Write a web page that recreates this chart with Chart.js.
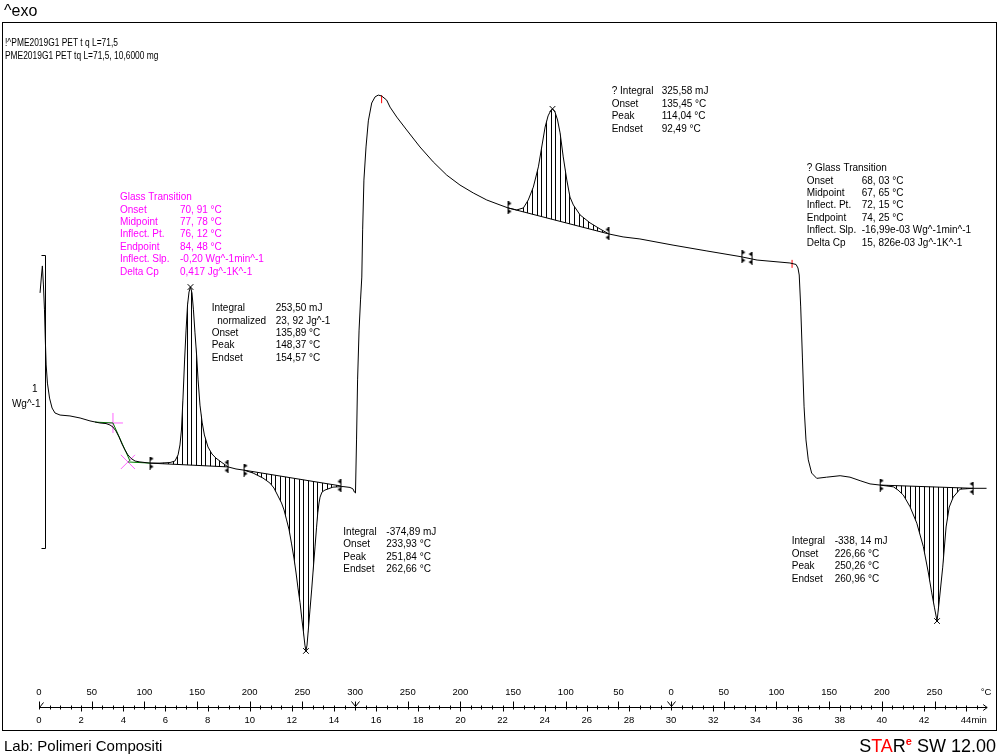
<!DOCTYPE html>
<html><head><meta charset="utf-8">
<script src="https://cdn.jsdelivr.net/npm/chart.js@4.4.1/dist/chart.umd.min.js"></script>
<style>html,body{margin:0;padding:0;background:#fff;overflow:hidden}</style>
</head><body>
<canvas id="c" width="1000" height="756"></canvas>
<script>
// ---------- DATA (time in min, heat flow in W/g, relative) ----------
const heat1Time = [0.05,0.12,0.16,0.21,0.26,0.30,0.34,0.40,0.50,0.62,0.76,1.00,1.47,1.95,2.42,2.89,3.18,3.37,3.51,3.65,3.80,3.94,4.08,4.22,4.37,4.56,4.79,5.27,5.74,6.22,6.45,6.60,6.69,6.76,6.83,6.91,6.98,7.05,7.12,7.19,7.26,7.33,7.40,7.48,7.55,7.64,7.74,7.85,8.02,8.21,8.40,8.64,8.97,9.35,9.73,10.16,10.63,10.96,11.15,11.32,11.51,11.63,11.75,11.87,11.98,12.10,12.20,12.29,12.39,12.48,12.55,12.62,12.67,12.72,12.78,12.86,12.94,13.02,13.10,13.17,13.23,13.29,13.34,13.43,13.57,13.95,14.43,14.76,14.90,14.97,15.02];
const heat1Flow = [1.311,1.372,1.403,1.338,1.253,1.150,1.065,1.003,0.952,0.918,0.901,0.894,0.891,0.884,0.874,0.867,0.865,0.860,0.853,0.840,0.819,0.795,0.775,0.758,0.746,0.737,0.734,0.730,0.730,0.732,0.737,0.758,0.792,0.843,0.945,1.082,1.184,1.270,1.314,1.331,1.311,1.253,1.177,1.099,1.014,0.928,0.870,0.826,0.785,0.761,0.747,0.734,0.717,0.710,0.706,0.696,0.679,0.662,0.645,0.621,0.594,0.570,0.536,0.502,0.457,0.406,0.355,0.304,0.253,0.195,0.154,0.109,0.089,0.109,0.160,0.229,0.297,0.372,0.444,0.509,0.560,0.594,0.614,0.631,0.638,0.648,0.650,0.647,0.642,0.631,0.628];
const coolTime = [15.07,15.12,15.19,15.26,15.32,15.36,15.42,15.52,15.63,15.79,15.95,16.10,16.26,16.50,16.66,16.98,17.45,18.08,18.71,19.35,19.98,20.61,21.25,21.88,22.26,22.67,22.99,23.22,23.46,23.70,23.86,24.02,24.16,24.25,24.37,24.49,24.61,24.73,24.88,25.05,25.20,25.36,25.68,26.15,26.63,27.05,27.72,28.52,30.09,31.70,33.27,34.08,35.64,35.93];
const coolFlow = [0.809,1.014,1.184,1.287,1.365,1.526,1.696,1.809,1.898,1.959,1.980,1.986,1.983,1.969,1.945,1.911,1.867,1.809,1.758,1.713,1.679,1.652,1.628,1.611,1.601,1.594,1.601,1.628,1.672,1.741,1.809,1.877,1.915,1.928,1.939,1.928,1.901,1.857,1.775,1.696,1.638,1.611,1.577,1.550,1.529,1.512,1.502,1.495,1.474,1.454,1.435,1.423,1.413,1.408];
const heat2Time = [36.02,36.08,36.15,36.23,36.31,36.40,36.51,36.67,36.91,37.38,38.02,38.49,38.97,39.44,39.92,40.55,40.77,41.02,41.34,41.66,41.97,42.21,42.37,42.50,42.62,42.73,42.89,43.05,43.20,43.39,43.71,44.33,44.97];
const heat2Flow = [1.396,1.372,1.263,1.092,0.922,0.809,0.741,0.696,0.678,0.682,0.687,0.682,0.670,0.659,0.655,0.649,0.638,0.621,0.581,0.525,0.445,0.355,0.287,0.236,0.191,0.263,0.375,0.512,0.580,0.614,0.641,0.644,0.644];

// integration baselines (start / end of each evaluated peak)
const baseStartT = [5.27, 9.73, 22.26, 39.92];
const baseStartV = [0.730, 0.706, 1.601, 0.655];
const baseEndT   = [8.97, 14.33, 27.05, 44.33];
const baseEndV   = [0.717, 0.652, 1.512, 0.644];
// peak maxima / minima
const peakT = [7.19, 12.67, 24.37, 42.62];
const peakV = [1.331, 0.089, 1.939, 0.191];
// second glass transition limits
const tg2LimitT = [33.36, 33.84];
const tg2LimitV = [1.434, 1.428];
// first glass transition construction
const tg1TangentT = [2.66, 3.51, null, 3.51, 4.32, null, 4.22, 5.27];
const tg1TangentV = [0.870, 0.867, null, 0.867, 0.737, null, 0.734, 0.730];
const tg1OnsetT = [3.51], tg1OnsetV = [0.867];
const tg1EndT = [4.22], tg1EndV = [0.734];
// segment markers (red)
const segMarkT = [16.26, 35.74];
const segMarkV = [1.972, 1.410];

// axis ticks
const timeTickTimes  = [0,2,4,6,8,10,12,14,16,18,20,22,24,26,28,30,32,34,36,38,40,42,44];
const timeTickLabels = ['0','2','4','6','8','10','12','14','16','18','20','22','24','26','28','30','32','34','36','38','40','42','44'];
const tempTickTimes  = [0,2.5,5,7.5,10,12.5,15,17.5,20,22.5,25,27.5,30,32.5,35,37.5,40,42.5,44.95];
const tempTickLabels = ['0','50','100','150','200','250','300','250','200','150','100','50','0','50','100','150','200','250','°C'];

const X_MIN = -1.756, X_MAX = 45.466, Y_MIN = 0, Y_MAX = 2.2355;
const AXIS_START = 0, AXIS_END = 45;
const SCALE_BAR_T = 0.285, SCALE_BAR_TOP = 1.44, SCALE_BAR_LEN = 1;

const annotationBlocks = [
  {t:3.844, v:1.637, col:60, color:'#FF00FF', rows:[['Glass Transition',''],['Onset','70, 91 °C'],['Midpoint','77, 78 °C'],['Inflect. Pt.','76, 12 °C'],['Endpoint','84, 48 °C'],['Inflect. Slp.','-0,20 Wg^-1min^-1'],['Delta Cp','0,417 Jg^-1K^-1']]},
  {t:8.196, v:1.258, col:64, color:'#000', rows:[['Integral','253,50 mJ'],['  normalized','23, 92 Jg^-1'],['Onset','135,89 °C'],['Peak','148,37 °C'],['Endset','154,57 °C']]},
  {t:14.442, v:0.494, col:43, color:'#000', rows:[['Integral','-374,89 mJ'],['Onset','233,93 °C'],['Peak','251,84 °C'],['Endset','262,66 °C']]},
  {t:27.18, v:1.998, col:50, color:'#000', rows:[['? Integral','325,58 mJ'],['Onset','135,45 °C'],['Peak','114,04 °C'],['Endset','92,49 °C']]},
  {t:36.435, v:1.736, col:55, color:'#000', rows:[['? Glass Transition',''],['Onset','68, 03 °C'],['Midpoint','67, 65 °C'],['Inflect. Pt.','72, 15 °C'],['Endpoint','74, 25 °C'],['Inflect. Slp.','-16,99e-03 Wg^-1min^-1'],['Delta Cp','15, 826e-03 Jg^-1K^-1']]},
  {t:35.723, v:0.462, col:43, color:'#000', rows:[['Integral','-338, 14 mJ'],['Onset','226,66 °C'],['Peak','250,26 °C'],['Endset','260,96 °C']]}
];

// ---------- helpers ----------
const FONT = '"Liberation Sans", Arial, sans-serif';
const pts = (T, V) => T.map((t, i) => ({x: t, y: V[i]}));
function hatchPattern() {
  const c = document.createElement('canvas'); c.width = 14; c.height = 2;
  const g = c.getContext('2d'); g.fillStyle = '#000';
  [0, 5, 9].forEach(x => g.fillRect(x, 0, 1, 2));
  return g.createPattern(c, 'repeat');
}
function limitMark(dir) {
  const c = document.createElement('canvas'); c.width = 9; c.height = 13;
  const g = c.getContext('2d'); g.fillStyle = '#000';
  g.fillRect(4, 0, 1, 13);
  [2, 10].forEach(y => {
    g.beginPath();
    if (dir > 0) { g.moveTo(5, y - 2); g.lineTo(8, y); g.lineTo(5, y + 2); }
    else { g.moveTo(4, y - 2); g.lineTo(1, y); g.lineTo(4, y + 2); }
    g.closePath(); g.fill();
  });
  return c;
}
const hatch = hatchPattern();
const leftMark = limitMark(1), rightMark = limitMark(-1);

const curve = pts(heat1Time, heat1Flow).concat(pts(coolTime, coolFlow), pts(heat2Time, heat2Flow));
const common = {xAxisID: 'x', yAxisID: 'y', tension: 0};
const datasets = [
  {...common, label: 'DSC', data: curve, borderColor: '#000', borderWidth: 1, pointRadius: 0, fill: false}
];
baseStartT.forEach((t, i) => datasets.push({...common, label: 'baseline ' + (i + 1),
  data: [{x: t, y: baseStartV[i]}, {x: baseEndT[i], y: baseEndV[i]}],
  borderColor: '#000', borderWidth: 1, pointRadius: 0, fill: {target: 0}, backgroundColor: hatch}));
datasets.push({...common, label: 'tg1 tangents', data: pts(tg1TangentT, tg1TangentV), borderColor: '#008000', borderWidth: 1, pointRadius: 0, spanGaps: false, fill: false});
datasets.push({...common, label: 'tg1 onset', data: pts(tg1OnsetT, tg1OnsetV), showLine: false, pointStyle: 'cross', pointRadius: 10, borderColor: '#FF66FF', borderWidth: 1});
datasets.push({...common, label: 'tg1 end', data: pts(tg1EndT, tg1EndV), showLine: false, pointStyle: 'crossRot', pointRadius: 10, borderColor: '#FF66FF', borderWidth: 1});
datasets.push({...common, label: 'peaks', data: pts(peakT, peakV), showLine: false, pointStyle: 'crossRot', pointRadius: 4, borderColor: '#000', borderWidth: 1});
datasets.push({...common, label: 'left limits', data: pts(baseStartT.concat([tg2LimitT[0]]), baseStartV.concat([tg2LimitV[0]])), showLine: false, pointStyle: leftMark, pointRadius: 5});
datasets.push({...common, label: 'right limits', data: pts(baseEndT.concat([tg2LimitT[1]]), baseEndV.concat([tg2LimitV[1]])), showLine: false, pointStyle: rightMark, pointRadius: 5});
datasets.push({...common, label: 'segment marks', data: pts(segMarkT, segMarkV), showLine: false, pointStyle: 'line', rotation: 90, pointRadius: 4, borderColor: '#FF0000', borderWidth: 1});

const decor = {
  id: 'decor',
  afterDraw(chart) {
    const {ctx, chartArea: ca, scales} = chart;
    const xs = scales.x, ys = scales.y;
    ctx.save();
    ctx.strokeStyle = '#000'; ctx.fillStyle = '#000'; ctx.lineWidth = 1;
    // frame
    const L = Math.round(ca.left) + 0.5, T = Math.round(ca.top) + 0.5, R = Math.round(ca.right) - 0.5;
    const B = Math.round(xs.bottom) - 2.5;
    ctx.strokeRect(L, T, R - L, B - T);
    // time / temperature axis line
    const ay = Math.round(xs.top) + 0.5;
    const ax0 = xs.getPixelForValue(AXIS_START), ax1 = xs.getPixelForValue(AXIS_END);
    const line = (x1, y1, x2, y2) => { ctx.beginPath(); ctx.moveTo(x1, y1); ctx.lineTo(x2, y2); ctx.stroke(); };
    line(ax0, ay, ax1, ay);
    line(ax1 - 4, ay - 3, ax1, ay); line(ax1 - 4, ay + 3, ax1, ay);
    for (let k = 1; k <= 89; k++) {
      const t = k * 0.5, px = Math.round(xs.getPixelForValue(t)) + 0.5;
      if (k === 30 || k === 60) continue;
      let up = 2, dn = 2;
      if (k % 4 === 0) dn = 4;
      if (k % 5 === 0) up = 6;
      line(px, ay - up, px, ay + dn);
    }
    // segment boundary marks
    const p0 = Math.round(xs.getPixelForValue(0)) + 0.5;
    line(p0, ay - 6, p0, ay + 2); line(p0, ay, p0 + 4, ay - 5);
    [15, 30].forEach(t => {
      const px = Math.round(xs.getPixelForValue(t)) + 0.5;
      line(px - 4, ay - 6, px, ay - 1); line(px + 4, ay - 6, px, ay - 1); line(px, ay - 6, px, ay + 3);
    });
    ctx.font = '9.5px ' + FONT; ctx.textBaseline = 'middle'; ctx.textAlign = 'left';
    const lastTick = xs.ticks.length - 1;
    ctx.fillText('min', xs.getPixelForValue(xs.ticks[lastTick].value) + ctx.measureText(timeTickLabels[lastTick]).width / 2, ay + 13);
    // scale bar 1 W/g
    const sx = Math.round(xs.getPixelForValue(SCALE_BAR_T)) + 0.5;
    const sy0 = Math.round(ys.getPixelForValue(SCALE_BAR_TOP)) + 0.5;
    const sy1 = Math.round(ys.getPixelForValue(SCALE_BAR_TOP - SCALE_BAR_LEN)) + 0.5;
    line(sx, sy0, sx, sy1); line(sx - 4, sy0, sx, sy0); line(sx - 4, sy1, sx, sy1);
    const sm = (sy0 + sy1) / 2;
    ctx.font = '10px ' + FONT; ctx.textAlign = 'right';
    ctx.fillText(String(SCALE_BAR_LEN), sx - 8, sm - 13);
    ctx.fillText('Wg^-1', sx - 5, sm + 2);
    // annotation blocks
    ctx.textAlign = 'left';
    annotationBlocks.forEach(b => {
      const bx = xs.getPixelForValue(b.t), by = ys.getPixelForValue(b.v);
      ctx.fillStyle = b.color;
      b.rows.forEach((r, i) => {
        ctx.fillText(r[0], bx, by + i * 12.4);
        if (r[1]) ctx.fillText(r[1], bx + b.col, by + i * 12.4);
      });
    });
    // header
    ctx.fillStyle = '#000';
    ctx.font = '16px ' + FONT;
    ctx.fillText('^exo', 4, 12);
    ctx.save();
    ctx.scale(0.8, 1);
    ctx.font = '10.5px ' + FONT;
    ctx.fillText('!^PME2019G1 PET t q L=71,5', 5 / 0.8, 43);
    ctx.fillText('PME2019G1 PET tq L=71,5, 10,6000 mg', 5 / 0.8, 56);
    ctx.restore();
    // footer
    ctx.textBaseline = 'alphabetic';
    ctx.font = '15px ' + FONT;
    ctx.fillText('Lab: Polimeri Compositi', 4, 751);
    const big = '18px ' + FONT, sup = 'bold 11px ' + FONT;
    const parts = [['S', '#000', big, 0], ['TA', '#FF0000', big, 0], ['R', '#000', big, 0], ['e', '#FF0000', sup, -7], [' SW 12.00', '#000', big, 0]];
    let w = 0;
    parts.forEach(p => { ctx.font = p[2]; w += ctx.measureText(p[0]).width; });
    let x = 996 - w;
    parts.forEach(p => { ctx.font = p[2]; ctx.fillStyle = p[1]; ctx.fillText(p[0], x, 752 + p[3]); x += ctx.measureText(p[0]).width; });
    ctx.restore();
  }
};

new Chart(document.getElementById('c'), {
  type: 'line',
  data: {datasets},
  options: {
    responsive: false, devicePixelRatio: 1, animation: false, events: [],
    layout: {autoPadding: false, padding: {left: 2, right: 3, top: 22, bottom: 23}},
    plugins: {legend: {display: false}, tooltip: {enabled: false}, title: {display: false}},
    scales: {
      xT: {type: 'linear', position: 'bottom', weight: 0, min: X_MIN, max: X_MAX,
        grid: {display: false, drawTicks: false}, border: {display: false},
        afterBuildTicks: s => { s.ticks = tempTickTimes.map(v => ({value: v})); },
        ticks: {autoSkip: false, maxRotation: 0, minRotation: 0, padding: 0, font: {family: FONT, size: 9.5, lineHeight: '30px'}, color: '#000',
          callback: (v, i) => tempTickLabels[i]}},
      x: {type: 'linear', position: 'bottom', weight: 1, min: X_MIN, max: X_MAX,
        grid: {display: false, drawTicks: false}, border: {display: false},
        afterBuildTicks: s => { s.ticks = timeTickTimes.map(v => ({value: v})); },
        ticks: {autoSkip: false, maxRotation: 0, minRotation: 0, padding: 0, font: {family: FONT, size: 9.5, lineHeight: '26px'}, color: '#000',
          callback: (v, i) => timeTickLabels[i]}},
      y: {type: 'linear', display: false, min: Y_MIN, max: Y_MAX}
    }
  },
  plugins: [decor]
});
</script>
</body></html>
